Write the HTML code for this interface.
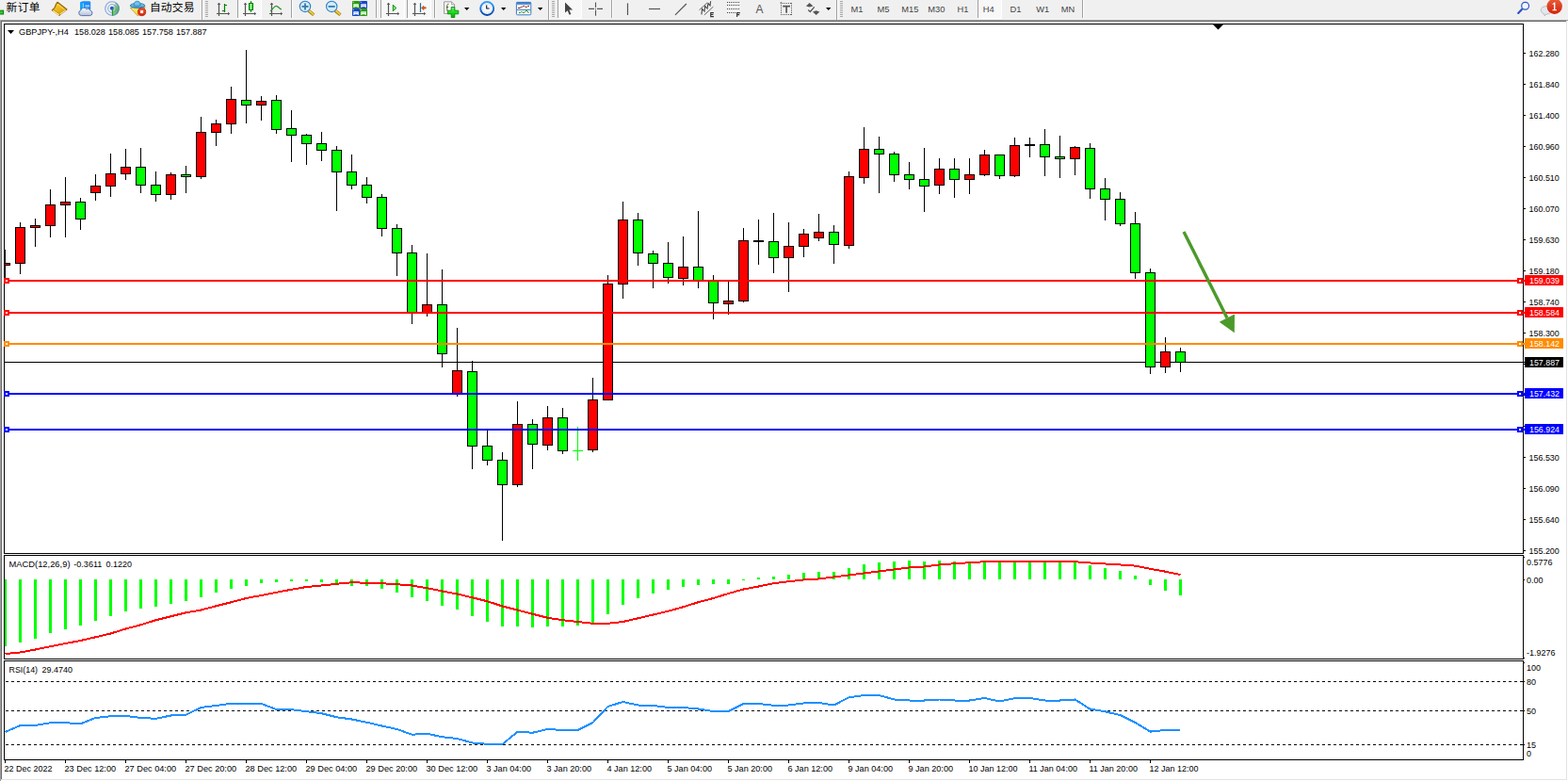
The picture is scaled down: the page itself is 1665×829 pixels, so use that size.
<!DOCTYPE html><html><head><meta charset="utf-8"><title>GBPJPY H4</title><style>html,body{margin:0;padding:0;background:#fff;}body{width:1665px;height:829px;position:relative;overflow:hidden;font-family:"Liberation Sans",sans-serif;}svg text{font-family:"Liberation Sans",sans-serif;}</style></head><body><svg width="1665" height="21" viewBox="0 0 1665 21" style="position:absolute;left:0;top:0" font-family="Liberation Sans, sans-serif"><defs><pattern id="chk" width="2" height="2" patternUnits="userSpaceOnUse"><rect width="2" height="2" fill="#f0f0f0"/><rect width="1" height="1" fill="#fff"/><rect x="1" y="1" width="1" height="1" fill="#fff"/></pattern><linearGradient id="gold" x1="0" y1="0" x2="1" y2="1"><stop offset="0" stop-color="#f7d640"/><stop offset=".5" stop-color="#eab818"/><stop offset="1" stop-color="#c88a08"/></linearGradient><linearGradient id="cloud" x1="0" y1="0" x2="0" y2="1"><stop offset="0" stop-color="#fff"/><stop offset="1" stop-color="#b4c0d6"/></linearGradient><linearGradient id="hat" x1="0" y1="0" x2="0" y2="1"><stop offset="0" stop-color="#8ccdf0"/><stop offset="1" stop-color="#3a9ad0"/></linearGradient><linearGradient id="face" x1="0" y1="0" x2="1" y2="1"><stop offset="0" stop-color="#fdf08c"/><stop offset=".6" stop-color="#f4d848"/><stop offset="1" stop-color="#e2a514"/></linearGradient><linearGradient id="redb" x1="0" y1="0" x2="0" y2="1"><stop offset="0" stop-color="#e8603c"/><stop offset="1" stop-color="#d41f08"/></linearGradient><linearGradient id="grn" x1="0" y1="0" x2="1" y2="0"><stop offset="0" stop-color="#30c830"/><stop offset=".5" stop-color="#90f890"/><stop offset="1" stop-color="#20b820"/></linearGradient><linearGradient id="plus" x1="0" y1="0" x2="0" y2="1"><stop offset="0" stop-color="#7af07a"/><stop offset=".5" stop-color="#18e018"/><stop offset="1" stop-color="#0aa80a"/></linearGradient><linearGradient id="clk" x1="0" y1="0" x2="0" y2="1"><stop offset="0" stop-color="#3aa0f8"/><stop offset="1" stop-color="#0448a8"/></linearGradient><linearGradient id="ttl" x1="0" y1="0" x2="0" y2="1"><stop offset="0" stop-color="#2f6fc0"/><stop offset="1" stop-color="#6aa8e8"/></linearGradient><linearGradient id="sweep" x1="0" y1="0" x2="1" y2=".6"><stop offset="0" stop-color="#cfe6cf" stop-opacity=".5"/><stop offset="1" stop-color="#2aa02a"/></linearGradient><linearGradient id="hdl" x1="0" y1="1" x2="1" y2="0"><stop offset="0" stop-color="#b07a08"/><stop offset=".5" stop-color="#f0d840"/><stop offset="1" stop-color="#c89a10"/></linearGradient></defs><rect width="1665" height="21" fill="#f0f0f0"/><rect x="-1" y="11.2" width="4.6" height="3.8" fill="#2ec82e" stroke="#0a780a" stroke-width="1"/><text x="6.5" y="12.4" font-size="11.8" fill="#000" textLength="36.1" lengthAdjust="spacing" style="font-family:'Liberation Sans','Noto Sans CJK SC',sans-serif">新订单</text><path d="M61 2.3L71 10L62.9 16.4L55.2 10.9C57.4 9.6 58.9 7.4 59.5 4.4Z" fill="url(#gold)" stroke="#9c640a" stroke-width="1.1" stroke-linejoin="round"/><path d="M56.4 10L63.4 15" stroke="#b47810" stroke-width=".7"/><path d="M56.2 11.3L62.7 15.9" stroke="#f8e28e" stroke-width="1.5"/><path d="M63.8 15.3L70 10.6" stroke="#efe4b8" stroke-width="1.1"/><path d="M60.6 4.2L68.6 10.2" stroke="#fbe878" stroke-width="1.2" opacity=".55"/><path d="M85.2 2.2L88 1.2H95.4L96.2 2.4V10H85.2Z" fill="#1c8cf8"/><path d="M85.2 2.4L88.4 3.4V10.5H85.2Z" fill="#08a8ff"/><path d="M88.4 3.4V10" stroke="#d8f0ff" stroke-width=".7"/><path d="M90.4 6.2H95" stroke="#e8f4ff" stroke-width="1.1"/><path d="M90.4 8.4H94" stroke="#a8d4ff" stroke-width=".8"/><path d="M86.4 16.6a2.9 2.9 0 0 1-.5-5.7a3.1 3.1 0 0 1 5.7-1.2a2.7 2.7 0 0 1 4.2 1.4a2.8 2.8 0 0 1-.2 5.5Z" fill="url(#cloud)" stroke="#4868a8" stroke-width=".9"/><circle cx="119" cy="9" r="7.4" fill="#eef2ee"/><path d="M119 9V16.7A7.7 7.7 0 0 0 122.8 2.3Z" fill="url(#sweep)"/><circle cx="119" cy="9" r="7.3" fill="none" stroke="#5a80dc" stroke-width="1.1" stroke-opacity=".7"/><circle cx="119" cy="9" r="4.4" fill="none" stroke="#5a80dc" stroke-width="1" stroke-opacity=".65"/><circle cx="118.8" cy="8.7" r="2" fill="#2a58d0"/><path d="M119.5 9.4V16.6" stroke="#18a018" stroke-width="1.3"/><path d="M138.3 8.3L154.2 7.6L148 15.6L146.2 16.7Z" fill="url(#face)" stroke="#c8920c" stroke-width=".8" stroke-linejoin="round"/><ellipse cx="146.1" cy="5.9" rx="7.8" ry="2.5" fill="url(#hat)" stroke="#1f7eae" stroke-width=".9"/><path d="M142.2 5.6C142.2 2.6 143.6 1.3 145.7 1.3C147.8 1.3 149 2.6 149.2 5.4C147 6.6 144.2 6.6 142.2 5.6Z" fill="#74c0ec" stroke="#1f7eae" stroke-width=".8"/><circle cx="150.6" cy="12.6" r="4.1" fill="url(#redb)" stroke="#b81a08" stroke-width=".8"/><rect x="149.1" y="11.1" width="3" height="3" fill="#fff"/><text x="158.9" y="12.4" font-size="11.8" fill="#000" textLength="47.65" lengthAdjust="spacing" style="font-family:'Liberation Sans','Noto Sans CJK SC',sans-serif">自动交易</text><rect x="214" y="0" width="1" height="21" fill="#a0a0a0"/><rect x="215" y="0" width="1" height="21" fill="#fff"/><rect x="218" y="1" width="3" height="1" fill="#a8a8a8"/><rect x="218" y="3" width="3" height="1" fill="#a8a8a8"/><rect x="218" y="5" width="3" height="1" fill="#a8a8a8"/><rect x="218" y="7" width="3" height="1" fill="#a8a8a8"/><rect x="218" y="9" width="3" height="1" fill="#a8a8a8"/><rect x="218" y="11" width="3" height="1" fill="#a8a8a8"/><rect x="218" y="13" width="3" height="1" fill="#a8a8a8"/><rect x="218" y="15" width="3" height="1" fill="#a8a8a8"/><rect x="218" y="17" width="3" height="1" fill="#a8a8a8"/><path d="M232.5 3.4V17M230 14.5H243" stroke="#555" stroke-width="1.2" fill="none"/><path d="M230.7 5L232.5 2.8L234.3 5ZM242 12.7L244.2 14.5L242 16.3Z" fill="#555"/><path d="M238.5 4V13M238.5 5.5H241M236 11.5H238.5" stroke="#008000" stroke-width="1.2" fill="none"/><rect x="252" y="0" width="25" height="19" fill="url(#chk)"/><rect x="252" y="0" width="1" height="19" fill="#a0a0a0"/><rect x="252" y="19" width="26" height="1" fill="#fff"/><rect x="277" y="0" width="1" height="20" fill="#fff"/><path d="M260.5 3.4V17M258 14.5H271" stroke="#555" stroke-width="1.2" fill="none"/><path d="M258.7 5L260.5 2.8L262.3 5ZM270 12.7L272.2 14.5L270 16.3Z" fill="#555"/><path d="M266.5 1.2V12.8" stroke="#008000" stroke-width="1.2"/><rect x="264.5" y="3.5" width="4" height="7" fill="url(#grn)" stroke="#008000" stroke-width="1"/><path d="M288.5 3.4V17M286 14.5H299" stroke="#555" stroke-width="1.2" fill="none"/><path d="M286.7 5L288.5 2.8L290.3 5ZM298 12.7L300.2 14.5L298 16.3Z" fill="#555"/><path d="M287 11.8C290 10 291 6.2 293.2 6.3C295.4 6.4 296.4 9.2 298.9 10" stroke="#2a982a" stroke-width="1.2" fill="none"/><rect x="309" y="0" width="1" height="19" fill="#a0a0a0"/><rect x="310" y="0" width="1" height="19" fill="#fff"/><path d="M327.6 11.2L333.2 15.8" stroke="#a87408" stroke-width="3.4"/><path d="M327.9 11L333 15.4" stroke="url(#hdl)" stroke-width="2"/><circle cx="324" cy="6.9" r="5.7" fill="#d2ebfa" stroke="#2f7fca" stroke-width="1.1"/><path d="M320.5 6.9H327.5" stroke="#3a7aa6" stroke-width="1.8"/><path d="M324 3.4V10.4" stroke="#3a7aa6" stroke-width="1.8"/><path d="M355.8 11.2L361.4 15.8" stroke="#a87408" stroke-width="3.4"/><path d="M356.09999999999997 11L361.2 15.4" stroke="url(#hdl)" stroke-width="2"/><circle cx="352.2" cy="6.9" r="5.7" fill="#d2ebfa" stroke="#2f7fca" stroke-width="1.1"/><path d="M348.7 6.9H355.7" stroke="#3a7aa6" stroke-width="1.8"/><rect x="374" y="1" width="8" height="8" rx=".8" fill="#2a9a10"/><rect x="374.8" y="1.8" width="1" height="1" fill="#fff" opacity=".8"/><path d="M375.3 4.3H380.8V8H379.8V7.2H376.3V8H375.3Z" fill="#fff"/><path d="M376.3 5.7H379.8" stroke="#9ad880" stroke-width=".8"/><rect x="382" y="1" width="8" height="8" rx=".8" fill="#1848c8"/><rect x="382.8" y="1.8" width="1" height="1" fill="#fff" opacity=".8"/><path d="M383.3 4.3H388.8V8H387.8V7.2H384.3V8H383.3Z" fill="#fff"/><path d="M384.3 5.7H387.8" stroke="#90a8f0" stroke-width=".8"/><rect x="374" y="9" width="8" height="8" rx=".8" fill="#1848c8"/><rect x="374.8" y="9.8" width="1" height="1" fill="#fff" opacity=".8"/><path d="M375.3 12.3H380.8V16H379.8V15.2H376.3V16H375.3Z" fill="#fff"/><path d="M376.3 13.7H379.8" stroke="#90a8f0" stroke-width=".8"/><rect x="382" y="9" width="8" height="8" rx=".8" fill="#2a9a10"/><rect x="382.8" y="9.8" width="1" height="1" fill="#fff" opacity=".8"/><path d="M383.3 12.3H388.8V16H387.8V15.2H384.3V16H383.3Z" fill="#fff"/><path d="M384.3 13.7H387.8" stroke="#9ad880" stroke-width=".8"/><rect x="399" y="0" width="1" height="19" fill="#a0a0a0"/><rect x="400" y="0" width="1" height="19" fill="#fff"/><rect x="404" y="0" width="25" height="19" fill="url(#chk)"/><rect x="404" y="0" width="1" height="19" fill="#a0a0a0"/><rect x="404" y="19" width="26" height="1" fill="#fff"/><rect x="429" y="0" width="1" height="20" fill="#fff"/><path d="M412.5 3.4V17M410 14.5H423" stroke="#555" stroke-width="1.2" fill="none"/><path d="M410.7 5L412.5 2.8L414.3 5ZM422 12.7L424.2 14.5L422 16.3Z" fill="#555"/><path d="M417.3 5.3V11.7L420.8 8.5Z" fill="#7cf07c" stroke="#0a8a0a" stroke-width="1" stroke-linejoin="round"/><rect x="432" y="0" width="25" height="19" fill="url(#chk)"/><rect x="432" y="0" width="1" height="19" fill="#a0a0a0"/><rect x="432" y="19" width="26" height="1" fill="#fff"/><rect x="457" y="0" width="1" height="20" fill="#fff"/><path d="M440.5 3.4V17M438 14.5H451" stroke="#555" stroke-width="1.2" fill="none"/><path d="M438.7 5L440.5 2.8L442.3 5ZM450 12.7L452.2 14.5L450 16.3Z" fill="#555"/><path d="M446.5 3.2V12.9" stroke="#1a6a9a" stroke-width="1.2"/><path d="M447.4 8.4L450 6.2V7.7H452.2V9.1H450V10.6Z" fill="#e85800" stroke="#a83800" stroke-width=".5"/><rect x="461" y="0" width="1" height="19" fill="#a0a0a0"/><rect x="462" y="0" width="1" height="19" fill="#fff"/><path d="M471.6 1.9H479.6L482.6 4.9V14.3H471.6Z" fill="#fff" stroke="#8a8a8a" stroke-width=".9"/><path d="M479.6 1.9V4.9H482.6" fill="#e8e8e8" stroke="#8a8a8a" stroke-width=".7"/><path d="M476.6 4.2C475.2 3.8 474.8 5 474.8 6V11.6M473.8 7.6H476.2" stroke="#4a4a2a" stroke-width=".9" fill="none"/><path d="M479.2 7.5H482.8V11.2H486.8V14.8H482.8V18.5H479.2V14.8H475.4V11.2H479.2Z" fill="url(#plus)" stroke="#0a8a0a" stroke-width=".9"/><path d="M493 8H498.4L495.7 11Z" fill="#000"/><circle cx="517.2" cy="9" r="7" fill="#f6f9ff" stroke="url(#clk)" stroke-width="1.9"/><path d="M516.7 5.6V9H519.6" stroke="#111" stroke-width="1.1" fill="none"/><circle cx="517.2" cy="9" r="4.6" fill="none" stroke="#9aa4b4" stroke-width=".7" stroke-dasharray=".7 1.7"/><path d="M532 8H537.4L534.7 11Z" fill="#000"/><rect x="548.4" y="2.4" width="15.4" height="13.4" rx="1" fill="#fff" stroke="#3878c4" stroke-width="1"/><rect x="548.4" y="2.4" width="15.4" height="2.8" fill="url(#ttl)"/><path d="M549 10.4H563.4" stroke="#3878c4" stroke-width="1"/><path d="M550 8.5H552L553.4 7.4H554.4L555.6 6.4H556.8L557.8 7.4H559.6L560.6 6.4H562" stroke="#8a1c00" stroke-width="1" fill="none"/><path d="M551 13.6H552.4L553.4 12.6H554.4L555.4 13.6H556.6L557.8 12.2L558.6 11.4H559.6L561.4 13.8" stroke="#0a8a0a" stroke-width="1" fill="none"/><path d="M571 8H576.4L573.7 11Z" fill="#000"/><rect x="582" y="0" width="1" height="21" fill="#a0a0a0"/><rect x="583" y="0" width="1" height="21" fill="#fff"/><rect x="586" y="1" width="3" height="1" fill="#a8a8a8"/><rect x="586" y="3" width="3" height="1" fill="#a8a8a8"/><rect x="586" y="5" width="3" height="1" fill="#a8a8a8"/><rect x="586" y="7" width="3" height="1" fill="#a8a8a8"/><rect x="586" y="9" width="3" height="1" fill="#a8a8a8"/><rect x="586" y="11" width="3" height="1" fill="#a8a8a8"/><rect x="586" y="13" width="3" height="1" fill="#a8a8a8"/><rect x="586" y="15" width="3" height="1" fill="#a8a8a8"/><rect x="586" y="17" width="3" height="1" fill="#a8a8a8"/><rect x="592" y="0" width="25" height="19" fill="url(#chk)"/><rect x="592" y="0" width="1" height="19" fill="#a0a0a0"/><rect x="592" y="19" width="26" height="1" fill="#fff"/><rect x="617" y="0" width="1" height="20" fill="#fff"/><path d="M600 2.4V13.6L602.6 11.2L604.6 15.8L606.4 15L604.4 10.6H608.2Z" fill="#444"/><path d="M632.5 2.4V8M632.5 10.8V16.8M625 9.4H631M634 9.4H640" stroke="#555" stroke-width="1.1"/><rect x="632" y="9" width="1" height="1" fill="#555"/><rect x="649" y="0" width="1" height="19" fill="#a0a0a0"/><rect x="650" y="0" width="1" height="19" fill="#fff"/><path d="M666.5 3.4V16" stroke="#555" stroke-width="1.2"/><path d="M689 9.5H701" stroke="#555" stroke-width="1.2"/><path d="M717 15.9L728.9 4" stroke="#555" stroke-width="1.2"/><path d="M742.5 10.7L750.9 3M747.9 15.9L757.4 7.1" stroke="#555" stroke-width=".9"/><path d="M744.9 15.4L745.6 9.4L748 12L748.6 6.4L751 9L752 3.6L754 6L754.6 1.2" stroke="#444" stroke-width="1.1" fill="none"/><path d="M757.9 13.6H754.7V17.6H757.9M754.7 15.5H757.4" stroke="#333" stroke-width="1.1" fill="none"/><rect x="772" y="2" width="1" height="1" fill="#444"/><rect x="774" y="2" width="1" height="1" fill="#444"/><rect x="776" y="2" width="1" height="1" fill="#444"/><rect x="778" y="2" width="1" height="1" fill="#444"/><rect x="780" y="2" width="1" height="1" fill="#444"/><rect x="782" y="2" width="1" height="1" fill="#444"/><rect x="784" y="2" width="1" height="1" fill="#444"/><rect x="772" y="5" width="1" height="1" fill="#444"/><rect x="774" y="5" width="1" height="1" fill="#444"/><rect x="776" y="5" width="1" height="1" fill="#444"/><rect x="778" y="5" width="1" height="1" fill="#444"/><rect x="780" y="5" width="1" height="1" fill="#444"/><rect x="782" y="5" width="1" height="1" fill="#444"/><rect x="784" y="5" width="1" height="1" fill="#444"/><rect x="772" y="9" width="1" height="1" fill="#444"/><rect x="774" y="9" width="1" height="1" fill="#444"/><rect x="776" y="9" width="1" height="1" fill="#444"/><rect x="778" y="9" width="1" height="1" fill="#444"/><rect x="780" y="9" width="1" height="1" fill="#444"/><rect x="782" y="9" width="1" height="1" fill="#444"/><rect x="784" y="9" width="1" height="1" fill="#444"/><rect x="772" y="13" width="1" height="1" fill="#444"/><rect x="774" y="13" width="1" height="1" fill="#444"/><rect x="776" y="13" width="1" height="1" fill="#444"/><rect x="778" y="13" width="1" height="1" fill="#444"/><rect x="780" y="13" width="1" height="1" fill="#444"/><path d="M785.8 13.6H782.6V18M782.6 15.6H785.2" stroke="#333" stroke-width="1.1" fill="none"/><text x="802.5" y="13.8" font-size="12" fill="#555">A</text><rect x="829" y="3" width="1" height="1" fill="#555"/><rect x="829" y="15" width="1" height="1" fill="#555"/><rect x="831" y="3" width="1" height="1" fill="#555"/><rect x="831" y="15" width="1" height="1" fill="#555"/><rect x="833" y="3" width="1" height="1" fill="#555"/><rect x="833" y="15" width="1" height="1" fill="#555"/><rect x="835" y="3" width="1" height="1" fill="#555"/><rect x="835" y="15" width="1" height="1" fill="#555"/><rect x="837" y="3" width="1" height="1" fill="#555"/><rect x="837" y="15" width="1" height="1" fill="#555"/><rect x="839" y="3" width="1" height="1" fill="#555"/><rect x="839" y="15" width="1" height="1" fill="#555"/><rect x="829" y="5" width="1" height="1" fill="#555"/><rect x="840" y="5" width="1" height="1" fill="#555"/><rect x="829" y="7" width="1" height="1" fill="#555"/><rect x="840" y="7" width="1" height="1" fill="#555"/><rect x="829" y="9" width="1" height="1" fill="#555"/><rect x="840" y="9" width="1" height="1" fill="#555"/><rect x="829" y="11" width="1" height="1" fill="#555"/><rect x="840" y="11" width="1" height="1" fill="#555"/><rect x="829" y="13" width="1" height="1" fill="#555"/><rect x="840" y="13" width="1" height="1" fill="#555"/><rect x="840" y="3" width="1" height="1" fill="#555"/><rect x="840" y="15" width="1" height="1" fill="#555"/><rect x="828.6" y="2.4" width="1.6" height="1.2" fill="#555"/><path d="M831.2 6.6H839M835.1 6.6V13.8" stroke="#555" stroke-width="1.7" fill="none"/><path d="M859.6 2.9L863.4 6.4L859.6 7.6L855.9 6.4Z" fill="#555"/><path d="M858.2 10.6L860.3 12.5L864.7 7.4" stroke="#555" stroke-width="1.3" fill="none"/><path d="M866.7 15.9L863 12.5L866.7 11.2L870.3 12.5Z" fill="#555"/><path d="M877 8H882.4L879.7 11Z" fill="#000"/><rect x="888" y="0" width="1" height="21" fill="#a0a0a0"/><rect x="889" y="0" width="1" height="21" fill="#fff"/><rect x="892" y="1" width="3" height="1" fill="#a8a8a8"/><rect x="892" y="3" width="3" height="1" fill="#a8a8a8"/><rect x="892" y="5" width="3" height="1" fill="#a8a8a8"/><rect x="892" y="7" width="3" height="1" fill="#a8a8a8"/><rect x="892" y="9" width="3" height="1" fill="#a8a8a8"/><rect x="892" y="11" width="3" height="1" fill="#a8a8a8"/><rect x="892" y="13" width="3" height="1" fill="#a8a8a8"/><rect x="892" y="15" width="3" height="1" fill="#a8a8a8"/><rect x="892" y="17" width="3" height="1" fill="#a8a8a8"/><rect x="1038" y="0" width="25" height="19" fill="url(#chk)"/><rect x="1038" y="0" width="1" height="19" fill="#a0a0a0"/><rect x="1038" y="19" width="26" height="1" fill="#fff"/><rect x="1063" y="0" width="1" height="20" fill="#fff"/><text x="910" y="12.8" font-size="9.3" fill="#444" text-anchor="middle">M1</text><text x="938" y="12.8" font-size="9.3" fill="#444" text-anchor="middle">M5</text><text x="966.4" y="12.8" font-size="9.3" fill="#444" text-anchor="middle">M15</text><text x="994.4" y="12.8" font-size="9.3" fill="#444" text-anchor="middle">M30</text><text x="1022.4" y="12.8" font-size="9.3" fill="#444" text-anchor="middle">H1</text><text x="1049.8" y="12.8" font-size="9.3" fill="#444" text-anchor="middle">H4</text><text x="1078.4" y="12.8" font-size="9.3" fill="#444" text-anchor="middle">D1</text><text x="1107.2" y="12.8" font-size="9.3" fill="#444" text-anchor="middle">W1</text><text x="1134" y="12.8" font-size="9.3" fill="#444" text-anchor="middle">MN</text><rect x="1149" y="0" width="1" height="19" fill="#a0a0a0"/><rect x="1150" y="0" width="1" height="19" fill="#fff"/><path d="M1616.2 9.8L1612.2 13.9" stroke="#2a55c8" stroke-width="2.2" stroke-linecap="round"/><circle cx="1619.6" cy="6.3" r="3.9" fill="#f4f6ff" stroke="#2a55c8" stroke-width="1.2"/><path d="M1637 8.5C1639 6.2 1644 6 1647 8.2C1649 10.5 1648 13.8 1644.5 14.6C1642.6 15 1641 15 1640.2 16.9L1639.6 14.7C1636.4 13.6 1635.4 10.6 1637 8.5Z" fill="#e4e6ee" stroke="#b0b0b4" stroke-width=".8"/><circle cx="1650.7" cy="6.8" r="8.2" fill="url(#redb)"/><path d="M1648.4 4.2L1650.6 2.6H1651.4V10.2H1653V11.2H1648.4V10.2H1650V4.2L1648.6 5.1Z" fill="#fff"/></svg><svg width="1665" height="829" viewBox="0 0 1665 829" style="position:absolute;left:0;top:0" shape-rendering="crispEdges" font-family="Liberation Sans, sans-serif"><rect x="0" y="21" width="1665" height="1" fill="#a0a0a0"/><rect x="0" y="21" width="1" height="808" fill="#a0a0a0"/><rect x="1" y="22" width="1663" height="1" fill="#696969"/><rect x="1" y="22" width="1" height="806" fill="#696969"/><rect x="1663" y="22" width="1" height="806" fill="#e3e3e3"/><rect x="1" y="827" width="1663" height="1" fill="#e3e3e3"/><rect x="4" y="25" width="1614" height="1" fill="#000"/><rect x="4" y="587" width="1614" height="1" fill="#000"/><rect x="4" y="25" width="1" height="563" fill="#000"/><rect x="1617" y="25" width="1" height="563" fill="#000"/><rect x="4" y="589" width="1614" height="1" fill="#000"/><rect x="4" y="699" width="1614" height="1" fill="#000"/><rect x="4" y="589" width="1" height="111" fill="#000"/><rect x="1617" y="589" width="1" height="111" fill="#000"/><rect x="4" y="701" width="1614" height="1" fill="#000"/><rect x="4" y="806" width="1614" height="1" fill="#000"/><rect x="4" y="701" width="1" height="106" fill="#000"/><rect x="1617" y="701" width="1" height="106" fill="#000"/><rect x="5" y="384" width="1614" height="1" fill="#000"/><rect x="5" y="265" width="1" height="32" fill="#000"/><rect x="5" y="279" width="6" height="3" fill="#000"/><rect x="5" y="280" width="5" height="1" fill="#FF0000"/><rect x="21" y="236" width="1" height="55" fill="#000"/><rect x="16" y="241" width="11" height="39" fill="#000"/><rect x="17" y="242" width="9" height="37" fill="#FF0000"/><rect x="37" y="232" width="1" height="30" fill="#000"/><rect x="32" y="239" width="11" height="3" fill="#000"/><rect x="33" y="240" width="9" height="1" fill="#FF0000"/><rect x="53" y="201" width="1" height="51" fill="#000"/><rect x="48" y="217" width="11" height="23" fill="#000"/><rect x="49" y="218" width="9" height="21" fill="#FF0000"/><rect x="69" y="188" width="1" height="64" fill="#000"/><rect x="64" y="214" width="11" height="4" fill="#000"/><rect x="65" y="215" width="9" height="2" fill="#FF0000"/><rect x="85" y="210" width="1" height="34" fill="#000"/><rect x="80" y="214" width="11" height="19" fill="#000"/><rect x="81" y="215" width="9" height="17" fill="#00FF00"/><rect x="101" y="185" width="1" height="28" fill="#000"/><rect x="96" y="197" width="11" height="8" fill="#000"/><rect x="97" y="198" width="9" height="6" fill="#FF0000"/><rect x="117" y="163" width="1" height="46" fill="#000"/><rect x="112" y="184" width="11" height="14" fill="#000"/><rect x="113" y="185" width="9" height="12" fill="#FF0000"/><rect x="133" y="158" width="1" height="33" fill="#000"/><rect x="128" y="177" width="11" height="8" fill="#000"/><rect x="129" y="178" width="9" height="6" fill="#FF0000"/><rect x="149" y="157" width="1" height="48" fill="#000"/><rect x="144" y="177" width="11" height="20" fill="#000"/><rect x="145" y="178" width="9" height="18" fill="#00FF00"/><rect x="165" y="182" width="1" height="32" fill="#000"/><rect x="160" y="196" width="11" height="11" fill="#000"/><rect x="161" y="197" width="9" height="9" fill="#00FF00"/><rect x="181" y="183" width="1" height="29" fill="#000"/><rect x="176" y="185" width="11" height="22" fill="#000"/><rect x="177" y="186" width="9" height="20" fill="#FF0000"/><rect x="197" y="176" width="1" height="29" fill="#000"/><rect x="192" y="185" width="11" height="3" fill="#000"/><rect x="193" y="186" width="9" height="1" fill="#00FF00"/><rect x="213" y="124" width="1" height="66" fill="#000"/><rect x="208" y="140" width="11" height="48" fill="#000"/><rect x="209" y="141" width="9" height="46" fill="#FF0000"/><rect x="229" y="127" width="1" height="28" fill="#000"/><rect x="224" y="131" width="11" height="10" fill="#000"/><rect x="225" y="132" width="9" height="8" fill="#FF0000"/><rect x="245" y="92" width="1" height="50" fill="#000"/><rect x="240" y="105" width="11" height="27" fill="#000"/><rect x="241" y="106" width="9" height="25" fill="#FF0000"/><rect x="261" y="53" width="1" height="78" fill="#000"/><rect x="256" y="106" width="11" height="6" fill="#000"/><rect x="257" y="107" width="9" height="4" fill="#00FF00"/><rect x="277" y="102" width="1" height="26" fill="#000"/><rect x="272" y="107" width="11" height="5" fill="#000"/><rect x="273" y="108" width="9" height="3" fill="#FF0000"/><rect x="293" y="101" width="1" height="41" fill="#000"/><rect x="288" y="106" width="11" height="32" fill="#000"/><rect x="289" y="107" width="9" height="30" fill="#00FF00"/><rect x="309" y="117" width="1" height="55" fill="#000"/><rect x="304" y="136" width="11" height="8" fill="#000"/><rect x="305" y="137" width="9" height="6" fill="#00FF00"/><rect x="325" y="142" width="1" height="33" fill="#000"/><rect x="320" y="143" width="11" height="10" fill="#000"/><rect x="321" y="144" width="9" height="8" fill="#00FF00"/><rect x="341" y="140" width="1" height="31" fill="#000"/><rect x="336" y="152" width="11" height="8" fill="#000"/><rect x="337" y="153" width="9" height="6" fill="#00FF00"/><rect x="357" y="155" width="1" height="69" fill="#000"/><rect x="352" y="159" width="11" height="24" fill="#000"/><rect x="353" y="160" width="9" height="22" fill="#00FF00"/><rect x="373" y="164" width="1" height="37" fill="#000"/><rect x="368" y="182" width="11" height="15" fill="#000"/><rect x="369" y="183" width="9" height="13" fill="#00FF00"/><rect x="389" y="188" width="1" height="28" fill="#000"/><rect x="384" y="196" width="11" height="14" fill="#000"/><rect x="385" y="197" width="9" height="12" fill="#00FF00"/><rect x="405" y="206" width="1" height="45" fill="#000"/><rect x="400" y="209" width="11" height="34" fill="#000"/><rect x="401" y="210" width="9" height="32" fill="#00FF00"/><rect x="421" y="238" width="1" height="55" fill="#000"/><rect x="416" y="242" width="11" height="27" fill="#000"/><rect x="417" y="243" width="9" height="25" fill="#00FF00"/><rect x="437" y="260" width="1" height="84" fill="#000"/><rect x="432" y="268" width="11" height="64" fill="#000"/><rect x="433" y="269" width="9" height="62" fill="#00FF00"/><rect x="453" y="269" width="1" height="67" fill="#000"/><rect x="448" y="323" width="11" height="9" fill="#000"/><rect x="449" y="324" width="9" height="7" fill="#FF0000"/><rect x="469" y="286" width="1" height="104" fill="#000"/><rect x="464" y="323" width="11" height="53" fill="#000"/><rect x="465" y="324" width="9" height="51" fill="#00FF00"/><rect x="485" y="348" width="1" height="73" fill="#000"/><rect x="480" y="393" width="11" height="25" fill="#000"/><rect x="481" y="394" width="9" height="23" fill="#FF0000"/><rect x="501" y="383" width="1" height="115" fill="#000"/><rect x="496" y="394" width="11" height="80" fill="#000"/><rect x="497" y="395" width="9" height="78" fill="#00FF00"/><rect x="517" y="457" width="1" height="37" fill="#000"/><rect x="512" y="473" width="11" height="16" fill="#000"/><rect x="513" y="474" width="9" height="14" fill="#00FF00"/><rect x="533" y="480" width="1" height="94" fill="#000"/><rect x="528" y="488" width="11" height="27" fill="#000"/><rect x="529" y="489" width="9" height="25" fill="#00FF00"/><rect x="549" y="426" width="1" height="91" fill="#000"/><rect x="544" y="450" width="11" height="65" fill="#000"/><rect x="545" y="451" width="9" height="63" fill="#FF0000"/><rect x="565" y="445" width="1" height="53" fill="#000"/><rect x="560" y="450" width="11" height="22" fill="#000"/><rect x="561" y="451" width="9" height="20" fill="#00FF00"/><rect x="581" y="431" width="1" height="47" fill="#000"/><rect x="576" y="443" width="11" height="30" fill="#000"/><rect x="577" y="444" width="9" height="28" fill="#FF0000"/><rect x="597" y="433" width="1" height="49" fill="#000"/><rect x="592" y="443" width="11" height="36" fill="#000"/><rect x="593" y="444" width="9" height="34" fill="#00FF00"/><rect x="629" y="401" width="1" height="79" fill="#000"/><rect x="624" y="424" width="11" height="54" fill="#000"/><rect x="625" y="425" width="9" height="52" fill="#FF0000"/><rect x="645" y="292" width="1" height="133" fill="#000"/><rect x="640" y="301" width="11" height="124" fill="#000"/><rect x="641" y="302" width="9" height="122" fill="#FF0000"/><rect x="661" y="214" width="1" height="103" fill="#000"/><rect x="656" y="233" width="11" height="69" fill="#000"/><rect x="657" y="234" width="9" height="67" fill="#FF0000"/><rect x="677" y="226" width="1" height="56" fill="#000"/><rect x="672" y="233" width="11" height="36" fill="#000"/><rect x="673" y="234" width="9" height="34" fill="#00FF00"/><rect x="693" y="266" width="1" height="40" fill="#000"/><rect x="688" y="269" width="11" height="11" fill="#000"/><rect x="689" y="270" width="9" height="9" fill="#00FF00"/><rect x="709" y="257" width="1" height="44" fill="#000"/><rect x="704" y="279" width="11" height="16" fill="#000"/><rect x="705" y="280" width="9" height="14" fill="#00FF00"/><rect x="725" y="251" width="1" height="52" fill="#000"/><rect x="720" y="283" width="11" height="13" fill="#000"/><rect x="721" y="284" width="9" height="11" fill="#FF0000"/><rect x="741" y="224" width="1" height="82" fill="#000"/><rect x="736" y="283" width="11" height="15" fill="#000"/><rect x="737" y="284" width="9" height="13" fill="#00FF00"/><rect x="757" y="292" width="1" height="47" fill="#000"/><rect x="752" y="298" width="11" height="24" fill="#000"/><rect x="753" y="299" width="9" height="22" fill="#00FF00"/><rect x="773" y="299" width="1" height="35" fill="#000"/><rect x="768" y="319" width="11" height="4" fill="#000"/><rect x="769" y="320" width="9" height="2" fill="#FF0000"/><rect x="789" y="242" width="1" height="79" fill="#000"/><rect x="784" y="255" width="11" height="65" fill="#000"/><rect x="785" y="256" width="9" height="63" fill="#FF0000"/><rect x="821" y="226" width="1" height="64" fill="#000"/><rect x="816" y="256" width="11" height="18" fill="#000"/><rect x="817" y="257" width="9" height="16" fill="#00FF00"/><rect x="837" y="236" width="1" height="74" fill="#000"/><rect x="832" y="261" width="11" height="13" fill="#000"/><rect x="833" y="262" width="9" height="11" fill="#FF0000"/><rect x="853" y="243" width="1" height="30" fill="#000"/><rect x="848" y="248" width="11" height="14" fill="#000"/><rect x="849" y="249" width="9" height="12" fill="#FF0000"/><rect x="869" y="227" width="1" height="29" fill="#000"/><rect x="864" y="246" width="11" height="7" fill="#000"/><rect x="865" y="247" width="9" height="5" fill="#FF0000"/><rect x="885" y="239" width="1" height="41" fill="#000"/><rect x="880" y="246" width="11" height="14" fill="#000"/><rect x="881" y="247" width="9" height="12" fill="#00FF00"/><rect x="901" y="182" width="1" height="82" fill="#000"/><rect x="896" y="187" width="11" height="74" fill="#000"/><rect x="897" y="188" width="9" height="72" fill="#FF0000"/><rect x="917" y="135" width="1" height="60" fill="#000"/><rect x="912" y="158" width="11" height="31" fill="#000"/><rect x="913" y="159" width="9" height="29" fill="#FF0000"/><rect x="933" y="145" width="1" height="60" fill="#000"/><rect x="928" y="158" width="11" height="6" fill="#000"/><rect x="929" y="159" width="9" height="4" fill="#00FF00"/><rect x="949" y="161" width="1" height="32" fill="#000"/><rect x="944" y="163" width="11" height="23" fill="#000"/><rect x="945" y="164" width="9" height="21" fill="#00FF00"/><rect x="965" y="172" width="1" height="29" fill="#000"/><rect x="960" y="185" width="11" height="6" fill="#000"/><rect x="961" y="186" width="9" height="4" fill="#00FF00"/><rect x="981" y="157" width="1" height="68" fill="#000"/><rect x="976" y="190" width="11" height="8" fill="#000"/><rect x="977" y="191" width="9" height="6" fill="#00FF00"/><rect x="997" y="168" width="1" height="38" fill="#000"/><rect x="992" y="179" width="11" height="18" fill="#000"/><rect x="993" y="180" width="9" height="16" fill="#FF0000"/><rect x="1013" y="168" width="1" height="42" fill="#000"/><rect x="1008" y="179" width="11" height="12" fill="#000"/><rect x="1009" y="180" width="9" height="10" fill="#00FF00"/><rect x="1029" y="168" width="1" height="38" fill="#000"/><rect x="1024" y="185" width="11" height="6" fill="#000"/><rect x="1025" y="186" width="9" height="4" fill="#FF0000"/><rect x="1045" y="159" width="1" height="28" fill="#000"/><rect x="1040" y="164" width="11" height="22" fill="#000"/><rect x="1041" y="165" width="9" height="20" fill="#FF0000"/><rect x="1061" y="164" width="1" height="26" fill="#000"/><rect x="1056" y="164" width="11" height="23" fill="#000"/><rect x="1057" y="165" width="9" height="21" fill="#00FF00"/><rect x="1077" y="146" width="1" height="42" fill="#000"/><rect x="1072" y="154" width="11" height="33" fill="#000"/><rect x="1073" y="155" width="9" height="31" fill="#FF0000"/><rect x="1109" y="137" width="1" height="50" fill="#000"/><rect x="1104" y="153" width="11" height="14" fill="#000"/><rect x="1105" y="154" width="9" height="12" fill="#00FF00"/><rect x="1125" y="144" width="1" height="45" fill="#000"/><rect x="1120" y="166" width="11" height="3" fill="#000"/><rect x="1121" y="167" width="9" height="1" fill="#00FF00"/><rect x="1141" y="155" width="1" height="31" fill="#000"/><rect x="1136" y="156" width="11" height="13" fill="#000"/><rect x="1137" y="157" width="9" height="11" fill="#FF0000"/><rect x="1157" y="152" width="1" height="59" fill="#000"/><rect x="1152" y="157" width="11" height="44" fill="#000"/><rect x="1153" y="158" width="9" height="42" fill="#00FF00"/><rect x="1173" y="189" width="1" height="45" fill="#000"/><rect x="1168" y="200" width="11" height="12" fill="#000"/><rect x="1169" y="201" width="9" height="10" fill="#00FF00"/><rect x="1189" y="204" width="1" height="36" fill="#000"/><rect x="1184" y="211" width="11" height="27" fill="#000"/><rect x="1185" y="212" width="9" height="25" fill="#00FF00"/><rect x="1205" y="225" width="1" height="71" fill="#000"/><rect x="1200" y="237" width="11" height="53" fill="#000"/><rect x="1201" y="238" width="9" height="51" fill="#00FF00"/><rect x="1221" y="285" width="1" height="112" fill="#000"/><rect x="1216" y="289" width="11" height="101" fill="#000"/><rect x="1217" y="290" width="9" height="99" fill="#00FF00"/><rect x="1237" y="358" width="1" height="38" fill="#000"/><rect x="1232" y="373" width="11" height="17" fill="#000"/><rect x="1233" y="374" width="9" height="15" fill="#FF0000"/><rect x="1253" y="369" width="1" height="26" fill="#000"/><rect x="1248" y="373" width="11" height="12" fill="#000"/><rect x="1249" y="374" width="9" height="10" fill="#00FF00"/><rect x="613" y="453" width="1" height="36" fill="#00FF00"/><rect x="608" y="478" width="11" height="1" fill="#00FF00"/><rect x="805" y="233" width="1" height="48" fill="#000"/><rect x="800" y="255" width="11" height="2" fill="#000"/><rect x="1093" y="146" width="1" height="21" fill="#000"/><rect x="1088" y="153" width="11" height="2" fill="#000"/><rect x="5" y="297" width="1614" height="2" fill="#FF0000"/><rect x="4" y="295" width="6" height="6" fill="#FF0000"/><rect x="6" y="297" width="2" height="2" fill="#fff"/><rect x="1611" y="295" width="6" height="6" fill="#FF0000"/><rect x="1613" y="297" width="2" height="2" fill="#fff"/><rect x="5" y="331" width="1614" height="2" fill="#FF0000"/><rect x="4" y="329" width="6" height="6" fill="#FF0000"/><rect x="6" y="331" width="2" height="2" fill="#fff"/><rect x="1611" y="329" width="6" height="6" fill="#FF0000"/><rect x="1613" y="331" width="2" height="2" fill="#fff"/><rect x="5" y="364" width="1614" height="2" fill="#FF8C00"/><rect x="4" y="362" width="6" height="6" fill="#FF8C00"/><rect x="6" y="364" width="2" height="2" fill="#fff"/><rect x="1611" y="362" width="6" height="6" fill="#FF8C00"/><rect x="1613" y="364" width="2" height="2" fill="#fff"/><rect x="5" y="417" width="1614" height="2" fill="#0000FF"/><rect x="4" y="415" width="6" height="6" fill="#0000FF"/><rect x="6" y="417" width="2" height="2" fill="#fff"/><rect x="1611" y="415" width="6" height="6" fill="#0000FF"/><rect x="1613" y="417" width="2" height="2" fill="#fff"/><rect x="5" y="455" width="1614" height="2" fill="#0000FF"/><rect x="4" y="453" width="6" height="6" fill="#0000FF"/><rect x="6" y="455" width="2" height="2" fill="#fff"/><rect x="1611" y="453" width="6" height="6" fill="#0000FF"/><rect x="1613" y="455" width="2" height="2" fill="#fff"/><g shape-rendering="geometricPrecision"><line x1="1257" y1="246" x2="1303" y2="337.5" stroke="#4C9A2A" stroke-width="3.4"/><polygon points="1294.7,341.8 1311,333.6 1310.8,353.2" fill="#4C9A2A"/></g><polygon points="1288,26 1299,26 1293.5,31.5" fill="#000" shape-rendering="geometricPrecision"/><polygon points="8,32 15,32 11.5,36" fill="#000" shape-rendering="geometricPrecision"/><rect x="5" y="615" width="2" height="71" fill="#00FF00"/><rect x="20" y="615" width="3" height="67" fill="#00FF00"/><rect x="36" y="615" width="3" height="63" fill="#00FF00"/><rect x="52" y="615" width="3" height="57" fill="#00FF00"/><rect x="68" y="615" width="3" height="53" fill="#00FF00"/><rect x="84" y="615" width="3" height="49" fill="#00FF00"/><rect x="100" y="615" width="3" height="44" fill="#00FF00"/><rect x="116" y="615" width="3" height="39" fill="#00FF00"/><rect x="132" y="615" width="3" height="34" fill="#00FF00"/><rect x="148" y="615" width="3" height="31" fill="#00FF00"/><rect x="164" y="615" width="3" height="29" fill="#00FF00"/><rect x="180" y="615" width="3" height="26" fill="#00FF00"/><rect x="196" y="615" width="3" height="23" fill="#00FF00"/><rect x="212" y="615" width="3" height="19" fill="#00FF00"/><rect x="228" y="615" width="3" height="14" fill="#00FF00"/><rect x="244" y="615" width="3" height="10" fill="#00FF00"/><rect x="260" y="615" width="3" height="7" fill="#00FF00"/><rect x="276" y="615" width="3" height="4" fill="#00FF00"/><rect x="292" y="615" width="3" height="3" fill="#00FF00"/><rect x="308" y="615" width="3" height="2" fill="#00FF00"/><rect x="324" y="615" width="3" height="2" fill="#00FF00"/><rect x="340" y="615" width="3" height="3" fill="#00FF00"/><rect x="356" y="615" width="3" height="6" fill="#00FF00"/><rect x="372" y="615" width="3" height="7" fill="#00FF00"/><rect x="388" y="615" width="3" height="7" fill="#00FF00"/><rect x="404" y="615" width="3" height="10" fill="#00FF00"/><rect x="420" y="615" width="3" height="14" fill="#00FF00"/><rect x="436" y="615" width="3" height="19" fill="#00FF00"/><rect x="452" y="615" width="3" height="23" fill="#00FF00"/><rect x="468" y="615" width="3" height="28" fill="#00FF00"/><rect x="484" y="615" width="3" height="32" fill="#00FF00"/><rect x="500" y="615" width="3" height="39" fill="#00FF00"/><rect x="516" y="615" width="3" height="45" fill="#00FF00"/><rect x="532" y="615" width="3" height="50" fill="#00FF00"/><rect x="548" y="615" width="3" height="50" fill="#00FF00"/><rect x="564" y="615" width="3" height="51" fill="#00FF00"/><rect x="580" y="615" width="3" height="50" fill="#00FF00"/><rect x="596" y="615" width="3" height="50" fill="#00FF00"/><rect x="612" y="615" width="3" height="49" fill="#00FF00"/><rect x="628" y="615" width="3" height="46" fill="#00FF00"/><rect x="644" y="615" width="3" height="37" fill="#00FF00"/><rect x="660" y="615" width="3" height="27" fill="#00FF00"/><rect x="676" y="615" width="3" height="20" fill="#00FF00"/><rect x="692" y="615" width="3" height="15" fill="#00FF00"/><rect x="708" y="615" width="3" height="11" fill="#00FF00"/><rect x="724" y="615" width="3" height="8" fill="#00FF00"/><rect x="740" y="615" width="3" height="6" fill="#00FF00"/><rect x="756" y="615" width="3" height="5" fill="#00FF00"/><rect x="772" y="615" width="3" height="5" fill="#00FF00"/><rect x="788" y="615" width="3" height="1" fill="#00FF00"/><rect x="1220" y="615" width="3" height="6" fill="#00FF00"/><rect x="1236" y="615" width="3" height="12" fill="#00FF00"/><rect x="1252" y="615" width="3" height="17" fill="#00FF00"/><rect x="804" y="613" width="3" height="2" fill="#00FF00"/><rect x="820" y="612" width="3" height="3" fill="#00FF00"/><rect x="836" y="610" width="3" height="5" fill="#00FF00"/><rect x="852" y="608" width="3" height="7" fill="#00FF00"/><rect x="868" y="607" width="3" height="8" fill="#00FF00"/><rect x="884" y="607" width="3" height="8" fill="#00FF00"/><rect x="900" y="603" width="3" height="12" fill="#00FF00"/><rect x="916" y="599" width="3" height="16" fill="#00FF00"/><rect x="932" y="597" width="3" height="18" fill="#00FF00"/><rect x="948" y="596" width="3" height="19" fill="#00FF00"/><rect x="964" y="595" width="3" height="20" fill="#00FF00"/><rect x="980" y="596" width="3" height="19" fill="#00FF00"/><rect x="996" y="595" width="3" height="20" fill="#00FF00"/><rect x="1012" y="596" width="3" height="19" fill="#00FF00"/><rect x="1028" y="596" width="3" height="19" fill="#00FF00"/><rect x="1044" y="595" width="3" height="20" fill="#00FF00"/><rect x="1060" y="595" width="3" height="20" fill="#00FF00"/><rect x="1076" y="595" width="3" height="20" fill="#00FF00"/><rect x="1092" y="595" width="3" height="20" fill="#00FF00"/><rect x="1108" y="595" width="3" height="20" fill="#00FF00"/><rect x="1124" y="595" width="3" height="20" fill="#00FF00"/><rect x="1140" y="597" width="3" height="18" fill="#00FF00"/><rect x="1156" y="600" width="3" height="15" fill="#00FF00"/><rect x="1172" y="603" width="3" height="12" fill="#00FF00"/><rect x="1188" y="606" width="3" height="9" fill="#00FF00"/><rect x="1204" y="611" width="3" height="4" fill="#00FF00"/><polyline points="5.5,694.00 21.5,692.50 37.5,689.50 53.5,686.25 69.5,683.00 85.5,680.00 101.5,676.25 117.5,672.50 133.5,667.50 149.5,663.25 165.5,658.25 181.5,654.25 197.5,650.25 213.5,647.50 229.5,643.25 245.5,639.25 261.5,635.00 277.5,632.00 293.5,628.75 309.5,625.75 325.5,623.00 341.5,621.50 357.5,619.75 373.5,618.25 389.5,618.75 405.5,619.20 421.5,620.25 437.5,621.50 453.5,624.25 469.5,627.50 485.5,630.50 501.5,634.25 517.5,638.25 533.5,643.50 549.5,647.50 565.5,651.75 581.5,655.75 597.5,658.25 613.5,660.00 629.5,661.75 645.5,661.75 661.5,660.00 677.5,656.25 693.5,652.50 709.5,648.75 725.5,644.25 741.5,639.25 757.5,635.00 773.5,630.00 789.5,625.50 805.5,622.50 821.5,619.25 837.5,617.25 853.5,615.50 869.5,614.50 885.5,612.50 901.5,610.50 917.5,608.50 933.5,606.50 949.5,604.50 965.5,602.50 981.5,601.50 997.5,599.50 1013.5,598.25 1029.5,597.25 1045.5,596.25 1061.5,596.25 1077.5,596.25 1093.5,596.25 1109.5,596.25 1125.5,596.25 1141.5,596.25 1157.5,597.50 1173.5,598.50 1189.5,599.50 1205.5,600.60 1221.5,603.80 1237.5,606.70 1253.5,610.00" fill="none" stroke="#FF0000" stroke-width="2" stroke-linejoin="round" shape-rendering="crispEdges"/><line x1="6" y1="723.5" x2="1617" y2="723.5" stroke="#000" stroke-width="1" stroke-dasharray="3,3"/><line x1="6" y1="754.5" x2="1617" y2="754.5" stroke="#000" stroke-width="1" stroke-dasharray="3,3"/><line x1="6" y1="790.5" x2="1617" y2="790.5" stroke="#000" stroke-width="1" stroke-dasharray="3,3"/><polyline points="5.5,777.00 21.5,770.00 37.5,770.00 53.5,767.25 69.5,767.25 85.5,768.25 101.5,762.00 117.5,760.25 133.5,760.00 149.5,762.00 165.5,762.75 181.5,759.50 197.5,758.75 213.5,751.00 229.5,749.00 245.5,746.75 261.5,747.00 277.5,747.00 293.5,753.00 309.5,753.25 325.5,755.25 341.5,757.25 357.5,761.25 373.5,763.50 389.5,766.75 405.5,770.50 421.5,774.00 437.5,779.75 453.5,778.75 469.5,782.25 485.5,784.00 501.5,788.50 517.5,789.75 533.5,790.00 549.5,776.75 565.5,777.75 581.5,774.00 597.5,775.00 613.5,775.00 629.5,767.00 645.5,750.00 661.5,745.00 677.5,748.50 693.5,749.00 709.5,751.00 725.5,751.00 741.5,752.50 757.5,755.00 773.5,755.00 789.5,747.00 805.5,747.00 821.5,748.75 837.5,748.50 853.5,746.50 869.5,746.00 885.5,748.50 901.5,740.25 917.5,738.00 933.5,738.00 949.5,742.50 965.5,743.50 981.5,743.50 997.5,742.50 1013.5,743.50 1029.5,743.50 1045.5,741.00 1061.5,744.50 1077.5,741.25 1093.5,741.00 1109.5,743.50 1125.5,743.50 1141.5,742.50 1157.5,752.60 1173.5,755.30 1189.5,759.10 1205.5,767.00 1221.5,776.60 1237.5,775.00 1253.5,774.80" fill="none" stroke="#1E90FF" stroke-width="2" stroke-linejoin="round" shape-rendering="crispEdges"/><rect x="1618" y="56" width="2" height="1" fill="#000"/><rect x="1618" y="89" width="2" height="1" fill="#000"/><rect x="1618" y="122" width="2" height="1" fill="#000"/><rect x="1618" y="155" width="2" height="1" fill="#000"/><rect x="1618" y="188" width="2" height="1" fill="#000"/><rect x="1618" y="221" width="2" height="1" fill="#000"/><rect x="1618" y="254" width="2" height="1" fill="#000"/><rect x="1618" y="287" width="2" height="1" fill="#000"/><rect x="1618" y="320" width="2" height="1" fill="#000"/><rect x="1618" y="353" width="2" height="1" fill="#000"/><rect x="1618" y="386" width="2" height="1" fill="#000"/><rect x="1618" y="419" width="2" height="1" fill="#000"/><rect x="1618" y="452" width="2" height="1" fill="#000"/><rect x="1618" y="485" width="2" height="1" fill="#000"/><rect x="1618" y="518" width="2" height="1" fill="#000"/><rect x="1618" y="551" width="2" height="1" fill="#000"/><rect x="1618" y="584" width="2" height="1" fill="#000"/><rect x="1618" y="591" width="1" height="1" fill="#000"/><rect x="1618" y="615" width="1" height="1" fill="#000"/><rect x="1618" y="698" width="1" height="1" fill="#000"/><rect x="1618" y="703" width="1" height="1" fill="#000"/><rect x="1618" y="723" width="1" height="1" fill="#000"/><rect x="1618" y="754" width="1" height="1" fill="#000"/><rect x="1618" y="790" width="1" height="1" fill="#000"/><rect x="5" y="807" width="1" height="3" fill="#000"/><rect x="69" y="807" width="1" height="3" fill="#000"/><rect x="133" y="807" width="1" height="3" fill="#000"/><rect x="197" y="807" width="1" height="3" fill="#000"/><rect x="261" y="807" width="1" height="3" fill="#000"/><rect x="325" y="807" width="1" height="3" fill="#000"/><rect x="389" y="807" width="1" height="3" fill="#000"/><rect x="453" y="807" width="1" height="3" fill="#000"/><rect x="517" y="807" width="1" height="3" fill="#000"/><rect x="581" y="807" width="1" height="3" fill="#000"/><rect x="645" y="807" width="1" height="3" fill="#000"/><rect x="709" y="807" width="1" height="3" fill="#000"/><rect x="773" y="807" width="1" height="3" fill="#000"/><rect x="837" y="807" width="1" height="3" fill="#000"/><rect x="901" y="807" width="1" height="3" fill="#000"/><rect x="965" y="807" width="1" height="3" fill="#000"/><rect x="1029" y="807" width="1" height="3" fill="#000"/><rect x="1093" y="807" width="1" height="3" fill="#000"/><rect x="1157" y="807" width="1" height="3" fill="#000"/><rect x="1221" y="807" width="1" height="3" fill="#000"/><text x="1623.5" y="59.8" fill="#000" font-size="9.5" text-anchor="start" textLength="32.3" lengthAdjust="spacingAndGlyphs">162.280</text><text x="1623.5" y="92.8" fill="#000" font-size="9.5" text-anchor="start" textLength="32.3" lengthAdjust="spacingAndGlyphs">161.840</text><text x="1623.5" y="125.8" fill="#000" font-size="9.5" text-anchor="start" textLength="32.3" lengthAdjust="spacingAndGlyphs">161.400</text><text x="1623.5" y="158.8" fill="#000" font-size="9.5" text-anchor="start" textLength="32.3" lengthAdjust="spacingAndGlyphs">160.960</text><text x="1623.5" y="191.8" fill="#000" font-size="9.5" text-anchor="start" textLength="32.3" lengthAdjust="spacingAndGlyphs">160.510</text><text x="1623.5" y="224.8" fill="#000" font-size="9.5" text-anchor="start" textLength="32.3" lengthAdjust="spacingAndGlyphs">160.070</text><text x="1623.5" y="257.8" fill="#000" font-size="9.5" text-anchor="start" textLength="32.3" lengthAdjust="spacingAndGlyphs">159.630</text><text x="1623.5" y="290.8" fill="#000" font-size="9.5" text-anchor="start" textLength="32.3" lengthAdjust="spacingAndGlyphs">159.180</text><text x="1623.5" y="323.8" fill="#000" font-size="9.5" text-anchor="start" textLength="32.3" lengthAdjust="spacingAndGlyphs">158.740</text><text x="1623.5" y="356.8" fill="#000" font-size="9.5" text-anchor="start" textLength="32.3" lengthAdjust="spacingAndGlyphs">158.300</text><text x="1623.5" y="389.8" fill="#000" font-size="9.5" text-anchor="start" textLength="32.3" lengthAdjust="spacingAndGlyphs">157.860</text><text x="1623.5" y="422.8" fill="#000" font-size="9.5" text-anchor="start" textLength="32.3" lengthAdjust="spacingAndGlyphs">157.420</text><text x="1623.5" y="455.8" fill="#000" font-size="9.5" text-anchor="start" textLength="32.3" lengthAdjust="spacingAndGlyphs">156.980</text><text x="1623.5" y="488.8" fill="#000" font-size="9.5" text-anchor="start" textLength="32.3" lengthAdjust="spacingAndGlyphs">156.530</text><text x="1623.5" y="521.8" fill="#000" font-size="9.5" text-anchor="start" textLength="32.3" lengthAdjust="spacingAndGlyphs">156.090</text><text x="1623.5" y="554.8" fill="#000" font-size="9.5" text-anchor="start" textLength="32.3" lengthAdjust="spacingAndGlyphs">155.640</text><text x="1623.5" y="587.8" fill="#000" font-size="9.5" text-anchor="start" textLength="32.3" lengthAdjust="spacingAndGlyphs">155.200</text><text x="1621" y="600" fill="#000" font-size="9.5" text-anchor="start" textLength="27.5" lengthAdjust="spacingAndGlyphs">0.5776</text><text x="1621" y="619" fill="#000" font-size="9.5" text-anchor="start" textLength="17.5" lengthAdjust="spacingAndGlyphs">0.00</text><text x="1621" y="696" fill="#000" font-size="9.5" text-anchor="start" textLength="30.5" lengthAdjust="spacingAndGlyphs">-1.9276</text><text x="1621" y="712" fill="#000" font-size="9.5" text-anchor="start" textLength="15.0" lengthAdjust="spacingAndGlyphs">100</text><text x="1621" y="727" fill="#000" font-size="9.5" text-anchor="start" textLength="10.0" lengthAdjust="spacingAndGlyphs">80</text><text x="1621" y="758" fill="#000" font-size="9.5" text-anchor="start" textLength="10.0" lengthAdjust="spacingAndGlyphs">50</text><text x="1621" y="794" fill="#000" font-size="9.5" text-anchor="start" textLength="10.0" lengthAdjust="spacingAndGlyphs">15</text><text x="1621" y="803" fill="#000" font-size="9.5" text-anchor="start" textLength="5.0" lengthAdjust="spacingAndGlyphs">0</text><text x="4.5" y="819" fill="#000" font-size="9.5" text-anchor="start" textLength="51.0" lengthAdjust="spacingAndGlyphs">22 Dec 2022</text><text x="68.5" y="819" fill="#000" font-size="9.5" text-anchor="start" textLength="54.6" lengthAdjust="spacingAndGlyphs">23 Dec 12:00</text><text x="132.5" y="819" fill="#000" font-size="9.5" text-anchor="start" textLength="54.6" lengthAdjust="spacingAndGlyphs">27 Dec 04:00</text><text x="196.5" y="819" fill="#000" font-size="9.5" text-anchor="start" textLength="54.6" lengthAdjust="spacingAndGlyphs">27 Dec 20:00</text><text x="260.5" y="819" fill="#000" font-size="9.5" text-anchor="start" textLength="54.6" lengthAdjust="spacingAndGlyphs">28 Dec 12:00</text><text x="324.5" y="819" fill="#000" font-size="9.5" text-anchor="start" textLength="54.6" lengthAdjust="spacingAndGlyphs">29 Dec 04:00</text><text x="388.5" y="819" fill="#000" font-size="9.5" text-anchor="start" textLength="54.6" lengthAdjust="spacingAndGlyphs">29 Dec 20:00</text><text x="452.5" y="819" fill="#000" font-size="9.5" text-anchor="start" textLength="54.6" lengthAdjust="spacingAndGlyphs">30 Dec 12:00</text><text x="516.5" y="819" fill="#000" font-size="9.5" text-anchor="start" textLength="47.5" lengthAdjust="spacingAndGlyphs">3 Jan 04:00</text><text x="580.5" y="819" fill="#000" font-size="9.5" text-anchor="start" textLength="47.5" lengthAdjust="spacingAndGlyphs">3 Jan 20:00</text><text x="644.5" y="819" fill="#000" font-size="9.5" text-anchor="start" textLength="47.5" lengthAdjust="spacingAndGlyphs">4 Jan 12:00</text><text x="708.5" y="819" fill="#000" font-size="9.5" text-anchor="start" textLength="47.5" lengthAdjust="spacingAndGlyphs">5 Jan 04:00</text><text x="772.5" y="819" fill="#000" font-size="9.5" text-anchor="start" textLength="47.5" lengthAdjust="spacingAndGlyphs">5 Jan 20:00</text><text x="836.5" y="819" fill="#000" font-size="9.5" text-anchor="start" textLength="47.5" lengthAdjust="spacingAndGlyphs">6 Jan 12:00</text><text x="900.5" y="819" fill="#000" font-size="9.5" text-anchor="start" textLength="47.5" lengthAdjust="spacingAndGlyphs">9 Jan 04:00</text><text x="964.5" y="819" fill="#000" font-size="9.5" text-anchor="start" textLength="47.5" lengthAdjust="spacingAndGlyphs">9 Jan 20:00</text><text x="1028.5" y="819" fill="#000" font-size="9.5" text-anchor="start" textLength="52.0" lengthAdjust="spacingAndGlyphs">10 Jan 12:00</text><text x="1092.5" y="819" fill="#000" font-size="9.5" text-anchor="start" textLength="51.4" lengthAdjust="spacingAndGlyphs">11 Jan 04:00</text><text x="1156.5" y="819" fill="#000" font-size="9.5" text-anchor="start" textLength="51.4" lengthAdjust="spacingAndGlyphs">11 Jan 20:00</text><text x="1220.5" y="819" fill="#000" font-size="9.5" text-anchor="start" textLength="52.0" lengthAdjust="spacingAndGlyphs">12 Jan 12:00</text><text x="20.1" y="36.5" fill="#000" font-size="9.5" text-anchor="start" textLength="52.7" lengthAdjust="spacingAndGlyphs">GBPJPY-,H4</text><text x="79.1" y="36.5" fill="#000" font-size="9.5" text-anchor="start" textLength="32.7" lengthAdjust="spacingAndGlyphs">158.028</text><text x="115.1" y="36.5" fill="#000" font-size="9.5" text-anchor="start" textLength="32.7" lengthAdjust="spacingAndGlyphs">158.085</text><text x="151.1" y="36.5" fill="#000" font-size="9.5" text-anchor="start" textLength="32.7" lengthAdjust="spacingAndGlyphs">157.758</text><text x="186.9" y="36.5" fill="#000" font-size="9.5" text-anchor="start" textLength="32.7" lengthAdjust="spacingAndGlyphs">157.887</text><text x="9.5" y="601.6" fill="#000" font-size="9.5" text-anchor="start" textLength="65" lengthAdjust="spacingAndGlyphs">MACD(12,26,9)</text><text x="78.3" y="601.6" fill="#000" font-size="9.5" text-anchor="start" textLength="30" lengthAdjust="spacingAndGlyphs">-0.3611</text><text x="112.5" y="601.6" fill="#000" font-size="9.5" text-anchor="start" textLength="27.5" lengthAdjust="spacingAndGlyphs">0.1220</text><text x="9.5" y="713.6" fill="#000" font-size="9.5" text-anchor="start" textLength="30.5" lengthAdjust="spacingAndGlyphs">RSI(14)</text><text x="44.5" y="713.6" fill="#000" font-size="9.5" text-anchor="start" textLength="32.5" lengthAdjust="spacingAndGlyphs">29.4740</text><rect x="1619" y="292" width="41" height="11" fill="#FF0000"/><text x="1624" y="301" fill="#fff" font-size="9.5" textLength="32" lengthAdjust="spacingAndGlyphs">159.039</text><rect x="1619" y="326" width="41" height="11" fill="#FF0000"/><text x="1624" y="335" fill="#fff" font-size="9.5" textLength="32" lengthAdjust="spacingAndGlyphs">158.584</text><rect x="1619" y="359" width="41" height="11" fill="#FF8C00"/><text x="1624" y="368" fill="#fff" font-size="9.5" textLength="32" lengthAdjust="spacingAndGlyphs">158.142</text><rect x="1619" y="412" width="41" height="11" fill="#0000FF"/><text x="1624" y="421" fill="#fff" font-size="9.5" textLength="32" lengthAdjust="spacingAndGlyphs">157.432</text><rect x="1619" y="450" width="41" height="11" fill="#0000FF"/><text x="1624" y="459" fill="#fff" font-size="9.5" textLength="32" lengthAdjust="spacingAndGlyphs">156.924</text><rect x="1619" y="379" width="41" height="11" fill="#000"/><text x="1624" y="388" fill="#fff" font-size="9.5" textLength="32" lengthAdjust="spacingAndGlyphs">157.887</text></svg></body></html>
